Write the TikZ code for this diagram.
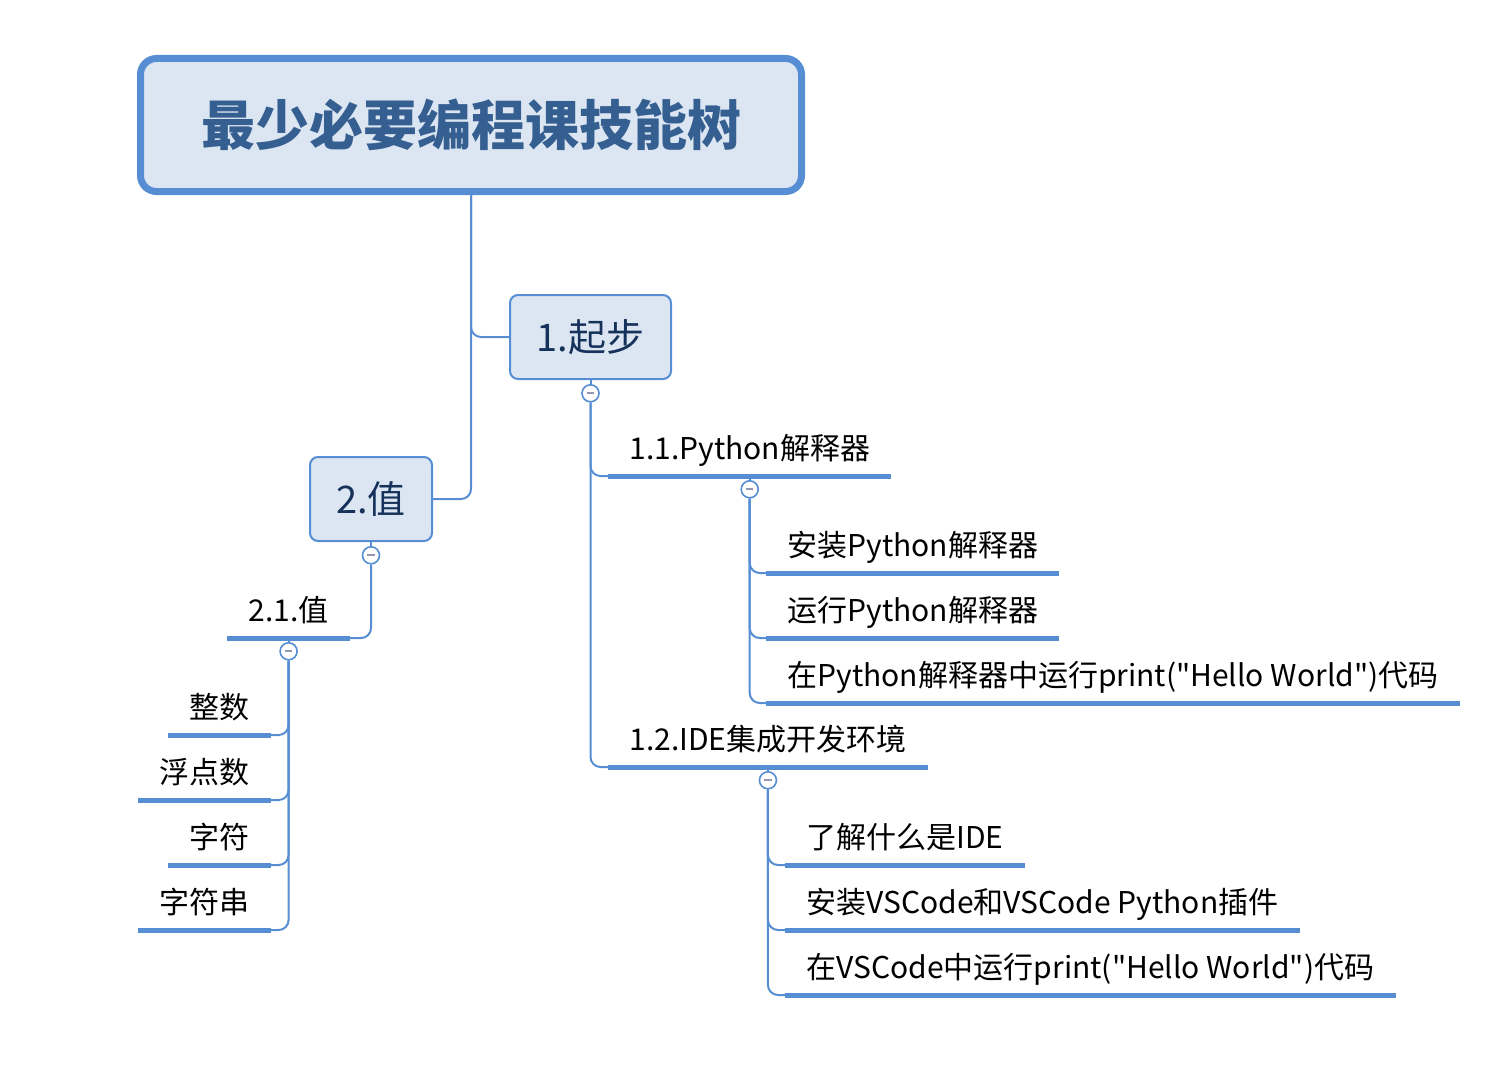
\documentclass[tikz,border=0pt]{standalone}
\usepackage{fontspec}
\setmainfont{Noto Sans CJK SC}
\usetikzlibrary{positioning}
\definecolor{mapblue}{RGB}{86,141,211}
\definecolor{boxfill}{RGB}{220,230,242}
\definecolor{titletext}{RGB}{54,95,145}
\definecolor{boxtext}{RGB}{22,50,90}
\definecolor{foldmark}{RGB}{150,150,175}
% straight double quote, kept out of the tex-text mapping
\newcommand\dq{\XeTeXglyph\the\XeTeXcharglyph"22\relax}
\tikzset{
  link/.style={draw=mapblue, line width=1pt, rounded corners=5pt},
  uline/.style={draw=mapblue, line width=2.5pt},
  topic/.style={font=\fontsize{15}{18}\selectfont, inner xsep=10.5pt, inner ysep=0pt,
    text height=11pt, text depth=8pt},
  mainbox/.style={draw=mapblue, fill=boxfill, line width=1pt, rounded corners=4pt,
    font=\fontsize{19}{22}\selectfont, text=boxtext, minimum height=42pt},
  fold/.style={circle, draw=mapblue, fill=white, line width=0.8pt, minimum size=8.5pt,
    inner sep=0pt, path picture={
      \draw[foldmark, line width=1pt]
        ([xshift=-1.8pt]path picture bounding box.center) --
        ([xshift=1.8pt]path picture bounding box.center);}}
}
\begin{document}
\begin{tikzpicture}[x=0.5pt, y=-0.5pt]
  % the frame
  \useasboundingbox (0,0) rectangle (1504,1065);

  % the root
  \node[draw=mapblue, line width=3.5pt, fill=boxfill, rounded corners=8pt,
    minimum width=330.5pt, minimum height=66.5pt,
    font=\bfseries\fontsize{27}{32}\selectfont, text=titletext] (title) at (471,125)
    {\raisebox{-1.5pt}{最少必要编程课技能树}};

  % the main topics
  \node[mainbox, minimum width=80.5pt] (qibu) at (590.5,337) {1.起步};
  \node[mainbox, minimum width=61pt] (zhi) at (371,499) {2.值};
  \draw[link] (title.south) |- (qibu.west);
  \draw[link] (title.south) |- (zhi.east);

  % 1. subtopics
  \node[fold, below=2pt of qibu] (fqibu) {};
  \node[topic, anchor=south west] (python) at (608,476) {1.1.Python解释器};
  \node[topic, anchor=south west] (ide) at (608,767) {1.2.IDE集成开发环境};
  \node[fold, below=2pt of python] (fpython) {};
  \node[fold, below=2pt of ide] (fide) {};

  \node[topic, anchor=south west] (install) at (766,573) {安装Python解释器};
  \node[topic, anchor=south west] (run) at (766,638) {运行Python解释器};
  \node[topic, anchor=south west] (hello) at (766,703) {在Python解释器中运行print(\dq Hello World\dq)代码};

  \node[topic, anchor=south west] (whatide) at (785,865) {了解什么是IDE};
  \node[topic, anchor=south west] (vscode) at (785,930) {安装VSCode和VSCode Python插件};
  \node[topic, anchor=south west] (vshello) at (785,995) {在VSCode中运行print(\dq Hello World\dq)代码};

  % 2. subtopics
  \node[fold, below=2pt of zhi] (fzhi) {};
  \node[topic, anchor=south east] (value) at (350,638) {2.1.值};
  \node[fold, below=2pt of value] (fvalue) {};
  \node[topic, anchor=south east] (int) at (271,735) {整数};
  \node[topic, anchor=south east] (float) at (271,800) {浮点数};
  \node[topic, anchor=south east] (char) at (271,865) {字符};
  \node[topic, anchor=south east] (string) at (271,930) {字符串};

  % connectors
  \draw[link] (qibu.south) -- (fqibu.north);
  \draw[link] (zhi.south) -- (fzhi.north);
  \draw[link] (python.south) -- (fpython.north);
  \draw[link] (ide.south) -- (fide.north);
  \draw[link] (value.south) -- (fvalue.north);
  \foreach \n in {python, ide}
    \draw[link] (fqibu.south) |- (\n.south west);
  \foreach \n in {install, run, hello}
    \draw[link] (fpython.south) |- (\n.south west);
  \foreach \n in {whatide, vscode, vshello}
    \draw[link] (fide.south) |- (\n.south west);
  \draw[link] (fzhi.south) |- (value.south east);
  \foreach \n in {int, float, char, string}
    \draw[link] (fvalue.south) |- (\n.south east);

  % underlines
  \foreach \n in {python, ide, install, run, hello, whatide, vscode, vshello,
                  value, int, float, char, string}
    \draw[uline] (\n.south west) -- (\n.south east);
\end{tikzpicture}
\end{document}
